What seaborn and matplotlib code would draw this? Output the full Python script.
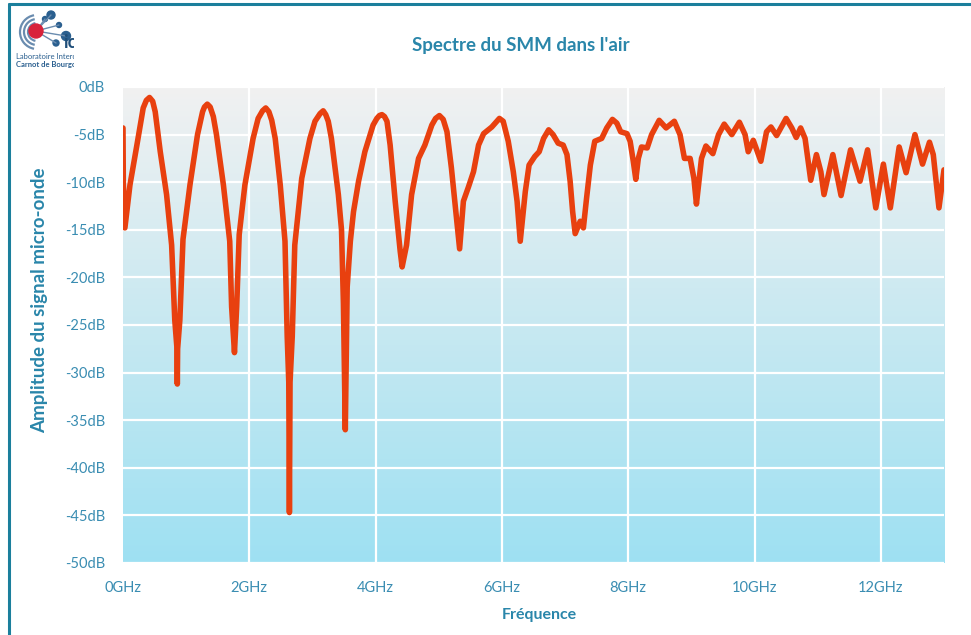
import matplotlib.pyplot as plt
import matplotlib.patches as mpatches
from matplotlib.lines import Line2D
import seaborn as sns
import numpy as np
import pandas as pd

# Spectre relevé (GHz, dB)
freq_ghz = [
    0.00, 0.005, 0.03, 0.11, 0.22, 0.32, 0.37, 0.42, 0.47, 0.51,
    0.59, 0.69, 0.77, 0.82, 0.855, 0.86, 0.865, 0.90, 0.95, 1.06,
    1.18, 1.26, 1.29, 1.335, 1.38, 1.43, 1.48, 1.59, 1.69, 1.72,
    1.765, 1.80, 1.84, 1.93, 2.06, 2.14, 2.21, 2.26, 2.31, 2.355,
    2.41, 2.49, 2.565, 2.60, 2.625, 2.635, 2.645, 2.68, 2.72, 2.83,
    2.96, 3.04, 3.12, 3.17, 3.21, 3.25, 3.30, 3.41, 3.46, 3.49,
    3.52, 3.55, 3.60, 3.65, 3.73, 3.83, 3.96, 4.02, 4.06, 4.10,
    4.14, 4.18, 4.23, 4.31, 4.39, 4.42, 4.49, 4.57, 4.68, 4.78,
    4.89, 4.95, 5.01, 5.07, 5.13, 5.20, 5.27, 5.33, 5.39, 5.47,
    5.55, 5.63, 5.71, 5.84, 5.96, 6.02, 6.10, 6.18, 6.24, 6.29,
    6.37, 6.43, 6.52, 6.59, 6.66, 6.74, 6.81, 6.89, 6.97, 7.03,
    7.08, 7.12, 7.16, 7.24, 7.29, 7.34, 7.40, 7.47, 7.58, 7.66,
    7.75, 7.82, 7.88, 7.98, 8.03, 8.08, 8.12, 8.16, 8.21, 8.30,
    8.37, 8.49, 8.60, 8.73, 8.82, 8.89, 8.98, 9.04, 9.08, 9.16,
    9.23, 9.34, 9.43, 9.52, 9.64, 9.76, 9.85, 9.90, 9.98, 10.10,
    10.19, 10.26, 10.35, 10.50, 10.59, 10.66, 10.73, 10.80, 10.85, 10.89,
    10.98, 11.05, 11.10, 11.24, 11.37, 11.52, 11.67, 11.79, 11.92, 12.04,
    12.15, 12.29, 12.40, 12.54, 12.66, 12.77, 12.83, 12.92, 13.00,
]
amplitude_db = [
    -4.3, -10.0, -14.8, -10.3, -6.1, -2.2, -1.4, -1.1, -1.5, -2.6,
    -6.8, -11.3, -16.6, -24.5, -27.5, -31.2, -27.5, -24.5, -16.0, -10.3,
    -5.0, -2.6, -2.1, -1.8, -2.1, -3.1, -5.0, -10.3, -16.2, -23.1,
    -27.9, -23.1, -15.5, -10.3, -5.4, -3.3, -2.5, -2.2, -2.6, -3.5,
    -5.4, -10.3, -16.2, -26.2, -31.0, -44.7, -31.0, -26.2, -16.6, -9.6,
    -5.4, -3.6, -2.8, -2.5, -2.9, -3.6, -5.4, -11.3, -15.0, -22.7,
    -36.0, -21.0, -16.2, -13.1, -9.9, -6.8, -4.0, -3.3, -3.0, -2.9,
    -3.1, -3.6, -6.1, -12.0, -17.3, -18.9, -16.6, -11.3, -7.5, -6.1,
    -4.0, -3.3, -3.0, -3.4, -4.7, -8.5, -13.1, -17.0, -12.0, -10.5,
    -8.9, -6.1, -4.9, -4.2, -3.3, -3.6, -5.7, -8.9, -12.0, -16.2,
    -11.0, -8.2, -7.3, -6.8, -5.4, -4.5, -5.0, -5.9, -6.1, -7.1,
    -9.9, -13.1, -15.4, -14.1, -14.8, -11.7, -8.2, -5.7, -5.4, -4.3,
    -3.4, -3.8, -4.7, -4.9, -5.7, -7.8, -9.7, -7.5, -6.3, -6.4,
    -5.0, -3.5, -4.3, -3.6, -5.0, -7.5, -7.5, -9.6, -12.3, -7.5,
    -6.2, -7.0, -5.0, -3.9, -5.0, -3.7, -5.0, -6.8, -5.6, -7.8,
    -4.7, -4.2, -5.1, -3.3, -4.3, -5.3, -4.3, -5.4, -7.8, -9.8,
    -7.1, -8.9, -11.3, -7.1, -11.4, -6.6, -9.9, -6.6, -12.7, -8.1,
    -12.7, -6.3, -9.0, -5.0, -8.1, -5.8, -7.1, -12.7, -8.7,
]

x_ticks = [0, 2, 4, 6, 8, 10, 12]
x_tick_labels = ["0GHz", "2GHz", "4GHz", "6GHz", "8GHz", "10GHz", "12GHz"]
y_ticks = [0, -5, -10, -15, -20, -25, -30, -35, -40, -45, -50]
y_tick_labels = ["0dB", "-5dB", "-10dB", "-15dB", "-20dB", "-25dB",
                 "-30dB", "-35dB", "-40dB", "-45dB", "-50dB"]

df = pd.DataFrame({"freq": freq_ghz, "amp": amplitude_db})

sns.set_style("white")
plt.rcParams['font.family'] = ['Lato', 'DejaVu Sans']

TEXTE = '#3a8db2'
TITRE = '#2a86aa'
COURBE = '#e8400f'

fig = plt.figure(figsize=(9.71, 6.35), dpi=100)
ax = fig.add_axes([123 / 971, 1 - 563 / 635, (944 - 123) / 971, (563 - 87) / 635])

# fond en dégradé gris -> bleu clair
haut = np.array([0.945, 0.945, 0.945])
bas = np.array([0.62, 0.88, 0.95])
t = np.linspace(0, 1, 256)[:, None]
grad = (haut[None, :] * (1 - t) + bas[None, :] * t)[:, None, :]
ax.imshow(grad, extent=[0, 13, -50, 0], aspect='auto', zorder=0)

for yv in y_ticks:
    ax.axhline(yv, color='white', lw=1.6, zorder=1)
for xv in x_ticks[1:]:
    ax.axvline(xv, color='white', lw=1.6, zorder=1)

sns.lineplot(data=df, x="freq", y="amp", estimator=None, sort=False, ax=ax,
             color=COURBE, lw=4.0, solid_joinstyle='round',
             solid_capstyle='round', zorder=3)

ax.set_xlim(0, 13)
ax.set_ylim(-50, 0)
ax.set_xticks(x_ticks)
ax.set_xticklabels(x_tick_labels)
ax.set_yticks(y_ticks)
ax.set_yticklabels(y_tick_labels)
ax.tick_params(length=0, labelsize=10.5, labelcolor=TEXTE)
ax.tick_params(axis='x', pad=13)
ax.tick_params(axis='y', pad=13)
ax.set_xlabel("")
ax.set_ylabel("")
for s in ax.spines.values():
    s.set_visible(False)

fig.text(521 / 971, 1 - 45 / 635, "Spectre du SMM dans l'air", ha='center',
         va='center', fontsize=13.5, fontweight='bold', color=TITRE)
fig.text(539 / 971, 1 - 615 / 635, "Fréquence", ha='center', va='center',
         fontsize=11.5, fontweight='bold', color=TITRE)
fig.text(40 / 971, 1 - 300 / 635, "Amplitude du signal micro-onde", ha='center',
         va='center', rotation=90, fontsize=13.5, fontweight='bold', color=TITRE)

# cadre (haut et gauche)
bord = '#1b7f9c'
fig.add_artist(Line2D([9 / 971, 1], [1 - 4 / 635, 1 - 4 / 635], color=bord, lw=2.2))
fig.add_artist(Line2D([9 / 971, 9 / 971], [0, 1 - 4 / 635], color=bord, lw=2.2))

# logo simplifié
lg = fig.add_axes([14 / 971, 1 - 70 / 635, 60 / 971, 62 / 635])
lg.set_xlim(0, 60)
lg.set_ylim(62, 0)
lg.axis('off')
for r in [9, 13, 17]:
    lg.add_patch(mpatches.Arc((23, 24), 2 * r, 2 * r, theta1=100, theta2=260,
                              color='#6a8caf', lw=1.6))
for (bx, by, br) in [(37, 7, 4), (52, 28, 4.5), (45, 17, 2.5), (42, 35, 3), (31, 11, 2.5)]:
    lg.plot([22, bx], [23, by], color='#6a8caf', lw=1.0)
    lg.add_patch(mpatches.Circle((bx, by), br, color='#2a5f8f'))
lg.add_patch(mpatches.Circle((22, 23), 7, color='#d8223a', zorder=3))
lg.text(49, 34, "ic", fontsize=13, fontweight='bold', color='#1f4e79', va='center', clip_on=True)
lg.text(2, 49, "Laboratoire Interdisciplinaire", fontsize=5.5, color='#2a5f8f', va='center', clip_on=True)
lg.text(2, 56, "Carnot de Bourgogne", fontsize=5.5, fontweight='bold', color='#2a5f8f', va='center', clip_on=True)

plt.savefig("out.png", dpi=100)
plt.close()
